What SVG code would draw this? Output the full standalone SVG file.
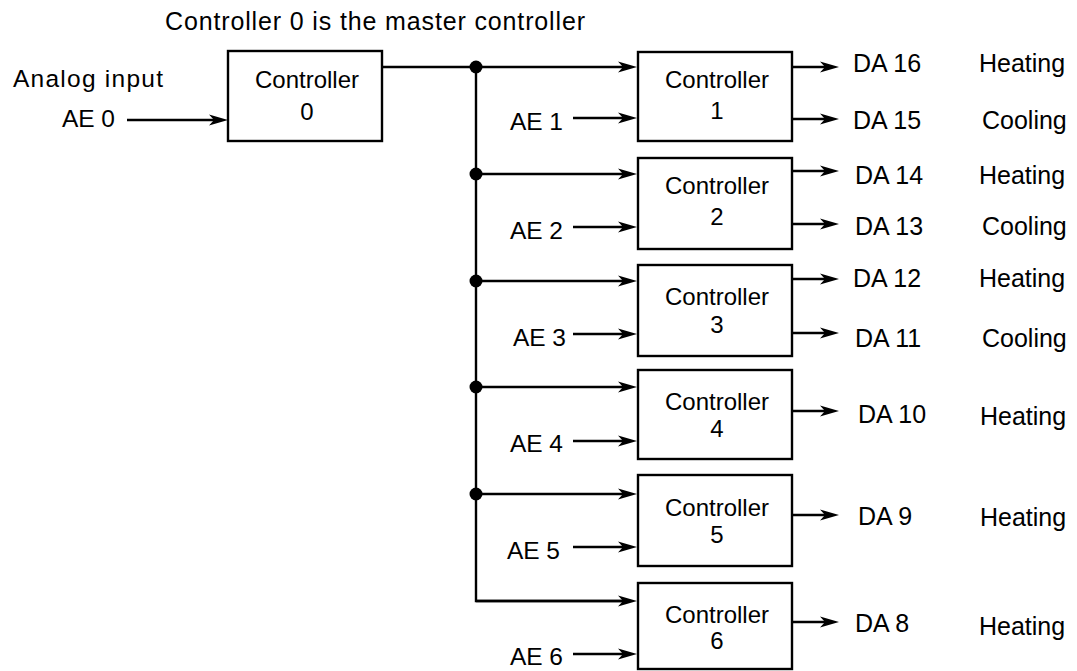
<svg xmlns="http://www.w3.org/2000/svg" width="1077" height="671" viewBox="0 0 1077 671">
<style>
text{font-family:"Liberation Sans",Arial,Helvetica,sans-serif;fill:#000}
.bt{font-size:24px;text-anchor:middle}
.lb{font-size:25px}
.ae{font-size:24.5px;text-anchor:end}
.box{fill:#fff;stroke:#000;stroke-width:2.4}
.ln{fill:none;stroke:#000;stroke-width:2.4}
.ar{marker-end:url(#ah)}
</style>
<defs>
<marker id="ah" markerUnits="userSpaceOnUse" markerWidth="22" markerHeight="14" refX="11" refY="6" orient="auto">
<path d="M0,0.5 L19,6 L0,11.5 L5,6 Z" fill="#000"/>
</marker>
</defs>
<rect width="1077" height="671" fill="#fff"/>
<text x="165" y="30" style="font-size:25px" textLength="420" lengthAdjust="spacing">Controller 0 is the master controller</text>
<text x="13" y="87" style="font-size:24.5px" textLength="150" lengthAdjust="spacing">Analog input</text>
<g id="connectors">
<path class="ln ar" d="M127,120 H220"/>
<path class="ln" d="M382,67 H476 M476,67 V601 H629"/>
<path class="ln ar" d="M476,67 H629"/>
<path class="ln ar" d="M476,174 H629"/>
<path class="ln ar" d="M476,281 H629"/>
<path class="ln ar" d="M476,387 H629"/>
<path class="ln ar" d="M476,494 H629"/>
<path class="ln ar" d="M476,601 H629"/>
<path class="ln ar" d="M573,118 H629"/>
<path class="ln ar" d="M573,227 H629"/>
<path class="ln ar" d="M573,334 H629"/>
<path class="ln ar" d="M573,441 H629"/>
<path class="ln ar" d="M573,547 H629"/>
<path class="ln ar" d="M573,654 H629"/>
<path class="ln ar" d="M792,67 H831"/>
<path class="ln ar" d="M792,119 H831"/>
<path class="ln ar" d="M792,171 H831"/>
<path class="ln ar" d="M792,224 H831"/>
<path class="ln ar" d="M792,279 H831"/>
<path class="ln ar" d="M792,333 H831"/>
<path class="ln ar" d="M792,411 H831"/>
<path class="ln ar" d="M792,515 H831"/>
<path class="ln ar" d="M792,622 H831"/>
<circle cx="476" cy="67" r="6.5"/>
<circle cx="476" cy="174" r="6.5"/>
<circle cx="476" cy="281" r="6.5"/>
<circle cx="476" cy="387" r="6.5"/>
<circle cx="476" cy="494" r="6.5"/>
</g>
<g id="ae-labels">
<text class="ae" x="115" y="127">AE 0</text>
<text class="ae" x="563" y="130">AE 1</text>
<text class="ae" x="563" y="239">AE 2</text>
<text class="ae" x="566" y="346">AE 3</text>
<text class="ae" x="563" y="452">AE 4</text>
<text class="ae" x="560" y="559">AE 5</text>
<text class="ae" x="563" y="665">AE 6</text>
</g>
<g id="c0"><rect class="box" x="228" y="51" width="154" height="90"/><text class="bt" x="307" y="88">Controller</text><text class="bt" x="307" y="120">0</text></g>
<g id="c1"><rect class="box" x="638" y="52" width="154" height="89"/><text class="bt" x="717" y="88">Controller</text><text class="bt" x="717" y="119">1</text></g>
<g id="c2"><rect class="box" x="638" y="158" width="154" height="91"/><text class="bt" x="717" y="194">Controller</text><text class="bt" x="717" y="225">2</text></g>
<g id="c3"><rect class="box" x="638" y="265" width="154" height="91"/><text class="bt" x="717" y="305">Controller</text><text class="bt" x="717" y="333">3</text></g>
<g id="c4"><rect class="box" x="638" y="370" width="154" height="89"/><text class="bt" x="717" y="410">Controller</text><text class="bt" x="717" y="437">4</text></g>
<g id="c5"><rect class="box" x="638" y="475" width="154" height="91"/><text class="bt" x="717" y="516">Controller</text><text class="bt" x="717" y="543">5</text></g>
<g id="c6"><rect class="box" x="638" y="583" width="154" height="86"/><text class="bt" x="717" y="623">Controller</text><text class="bt" x="717" y="649">6</text></g>
<g id="outputs">
<text class="lb" x="853" y="72">DA 16</text><text class="lb" x="979" y="72">Heating</text>
<text class="lb" x="853" y="129">DA 15</text><text class="lb" x="982" y="129">Cooling</text>
<text class="lb" x="855" y="184">DA 14</text><text class="lb" x="979" y="184">Heating</text>
<text class="lb" x="855" y="235">DA 13</text><text class="lb" x="982" y="235">Cooling</text>
<text class="lb" x="853" y="287">DA 12</text><text class="lb" x="979" y="287">Heating</text>
<text class="lb" x="855" y="347">DA 11</text><text class="lb" x="982" y="347">Cooling</text>
<text class="lb" x="858" y="423">DA 10</text><text class="lb" x="980" y="425">Heating</text>
<text class="lb" x="858" y="525">DA 9</text><text class="lb" x="980" y="526">Heating</text>
<text class="lb" x="855" y="632">DA 8</text><text class="lb" x="979" y="635">Heating</text>
</g>
</svg>
